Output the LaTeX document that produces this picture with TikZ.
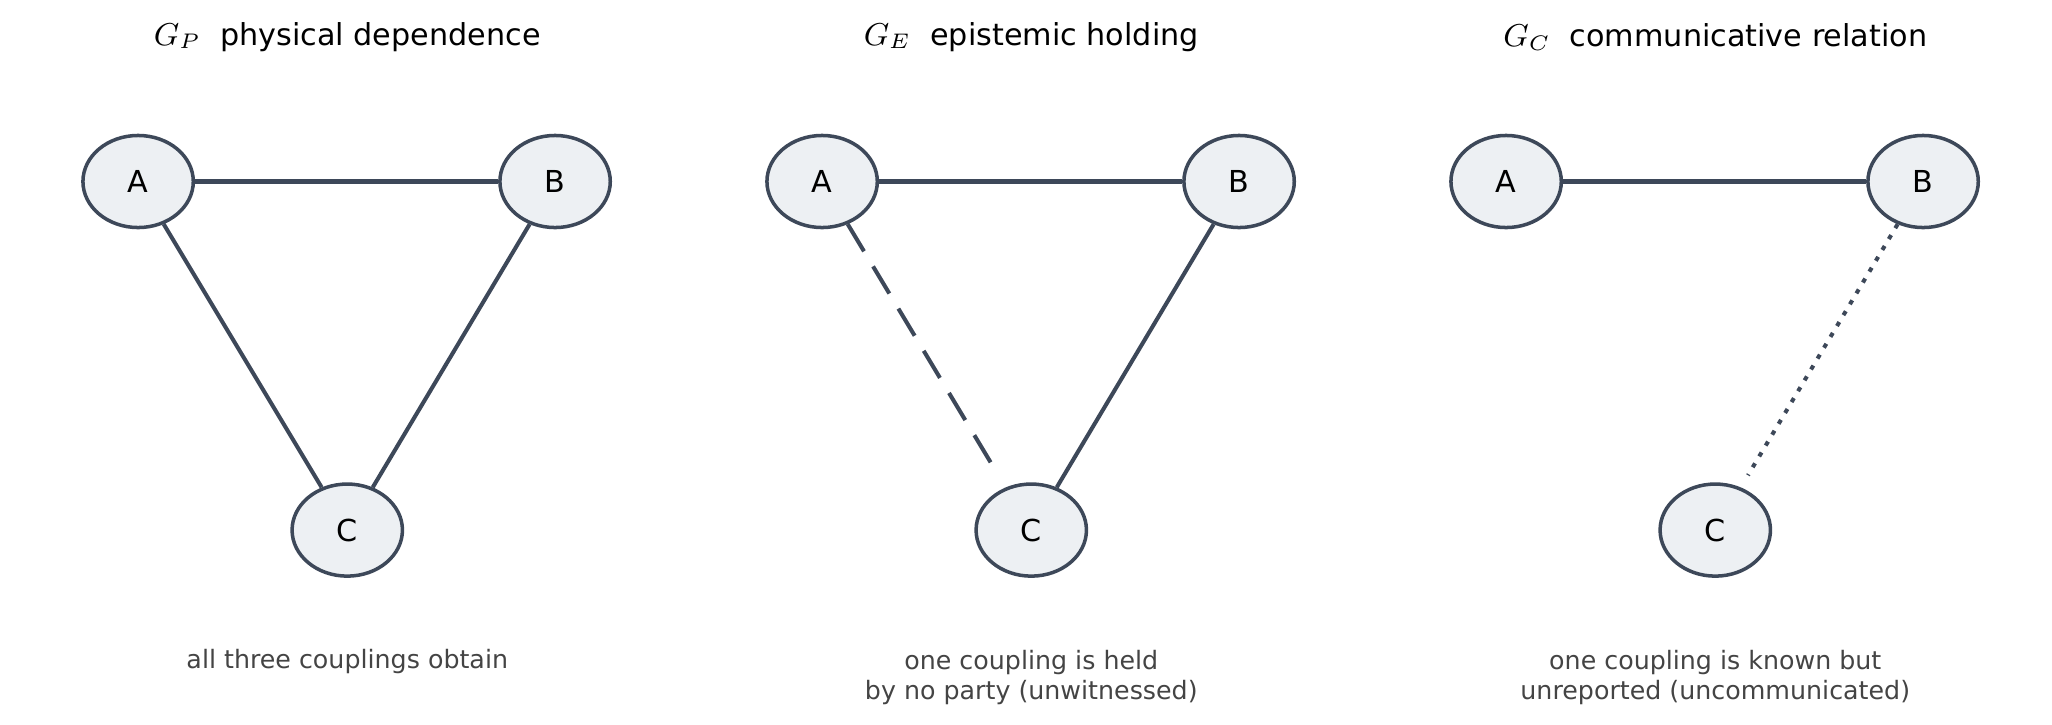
\documentclass[tikz,border=0pt]{standalone}
\usepackage{fontspec}
\setmainfont{DejaVu Sans}
\usetikzlibrary{shapes.geometric}
\begin{document}
\begin{tikzpicture}[x=0.013154cm,y=-0.013154cm,
  nd/.style={ellipse,draw=edgec,fill=nodef,line width=1pt,inner sep=0pt,minimum width=31.4pt,minimum height=26.2pt,font=\fontsize{8.6}{10}\selectfont},
  ed/.style={draw=edgec,line width=1.15pt},
  ttl/.style={font=\fontsize{8.6}{10}\selectfont},
  captxt/.style={font=\fontsize{7.2}{8.6}\selectfont,text=capc,align=center}]
\definecolor{edgec}{HTML}{3D4859}
\definecolor{nodef}{HTML}{EDF0F3}
\definecolor{capc}{HTML}{444444}
\useasboundingbox (0,0) rectangle (1560,551);
\foreach \o/\p in {0/p,520/e,1040/c}{
  \node[nd] (A\p) at (105+\o,138) {A};
  \node[nd] (B\p) at (422+\o,138) {B};
  \node[nd] (C\p) at (264+\o,403) {C};
}
\node[ttl] (tp) at (264,28) {$G_P$\ \ physical dependence};
\node[ttl] (te) at (784,28) {$G_E$\ \ epistemic holding};
\node[ttl] (tc) at (1304,28) {$G_C$\ \ communicative relation};
\draw[ed] (Ap)--(Bp); \draw[ed] (Ap)--(Cp); \draw[ed] (Bp)--(Cp);
\draw[ed] (Ae)--(Be); \draw[ed] (Be)--(Ce);
\draw[ed,dash pattern=on 9pt off 5pt,shorten >=4pt] (Ae)--(Ce);
\draw[ed] (Ac)--(Bc);
\draw[ed,dash pattern=on 1.3pt off 2.3pt,shorten >=4pt] (Bc)--(Cc);
\node[captxt] (cp) at (264,503) {all three couplings obtain};
\node[captxt] (ce) at (784,515) {one coupling is held\\by no party (unwitnessed)};
\node[captxt] (cc) at (1304,515) {one coupling is known but\\unreported (uncommunicated)};
\end{tikzpicture}
\end{document}
